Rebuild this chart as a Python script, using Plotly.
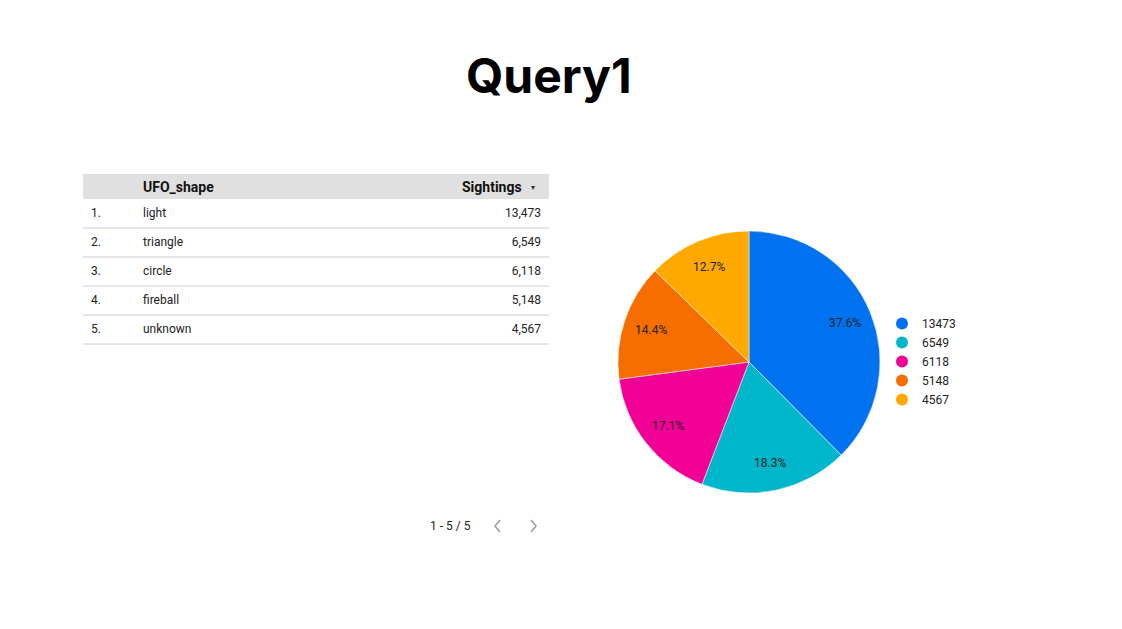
import math
import plotly.graph_objects as go

W, H = 1122, 629

title_text = "Query1"
shapes_ = ["light", "triangle", "circle", "fireball", "unknown"]
sightings = [13473, 6549, 6118, 5148, 4567]
ranks = ["1.", "2.", "3.", "4.", "5."]
colors = ["#0072f0", "#00b6cb", "#f10096", "#f66d00", "#ffa800"]
col_headers = ["", "UFO_shape", "Sightings"]
sort_arrow = "▾"
pager_text = "1 - 5 / 5"


def px(x):
    return x / W


def py(y):
    return 1 - y / H


fig = go.Figure()

# Table
tbl_left, tbl_right, tbl_top = 83, 549, 174
header_h, row_h = 25, 29
body_top = tbl_top + header_h
empty_header_h = 16  # plotly reserves this much for an empty table header
fig.add_trace(go.Table(
    domain=dict(x=[px(tbl_left), px(tbl_right)],
                y=[py(body_top + row_h * len(shapes_) + 40), py(body_top + 1 - empty_header_h)]),
    columnwidth=[52, 207, 207],
    header=dict(values=[], line=dict(width=0), fill_color="rgba(0,0,0,0)"),
    cells=dict(
        values=[ranks, shapes_, sightings],
        format=[None, None, ","],
        fill_color="rgba(0,0,0,0)",
        line=dict(width=0, color="rgba(0,0,0,0)"),
        align=["left", "left", "right"],
        font=dict(family="Roboto", size=12, color="#222222"),
        height=row_h,
    ),
))

shape_list = [dict(type="rect", xref="paper", yref="paper", layer="below",
                   x0=px(tbl_left), x1=px(tbl_right), y0=py(body_top), y1=py(tbl_top),
                   fillcolor="#e0e0e0", line=dict(width=0))]
for i in range(len(shapes_)):
    yy = body_top + row_h * (i + 1)
    shape_list.append(dict(type="line", xref="paper", yref="paper",
                           x0=px(tbl_left), x1=px(tbl_right), y0=py(yy), y1=py(yy),
                           line=dict(color="#cccccc", width=1)))

annotations = [
    dict(text=f"<b>{col_headers[1]}</b>", x=px(141), y=py(tbl_top + header_h / 2), xref="paper", yref="paper",
         xanchor="left", yanchor="middle", showarrow=False,
         font=dict(family="Roboto", size=14, color="#111111")),
    dict(text=f"<b>{col_headers[2]}</b>", x=px(524), y=py(tbl_top + header_h / 2), xref="paper", yref="paper",
         xanchor="right", yanchor="middle", showarrow=False,
         font=dict(family="Roboto", size=14, color="#111111")),
    dict(text=sort_arrow, x=px(533), y=py(tbl_top + header_h / 2 + 0.5), xref="paper", yref="paper",
         xanchor="center", yanchor="middle", showarrow=False,
         font=dict(family="DejaVu Sans", size=8, color="#333333")),
]

# Pie
cx, cy, r = 749, 362, 131
fig.add_trace(go.Pie(
    values=sightings,
    labels=[str(v) for v in sightings],
    sort=False,
    direction="clockwise",
    rotation=0,
    marker=dict(colors=colors, line=dict(color="white", width=0.5)),
    textinfo="none",
    domain=dict(x=[px(cx - r), px(cx + r)], y=[py(cy + r), py(cy - r)]),
    showlegend=False,
    hoverinfo="label+percent",
))

# Percentage labels placed at slice mid-angles computed from data
total = sum(sightings)
cum = 0.0
for v in sightings:
    frac = v / total
    mid = (cum + frac / 2) * 2 * math.pi
    cum += frac
    lr = 0.79 * r
    lx = cx + lr * math.sin(mid)
    ly = cy - lr * math.cos(mid)
    annotations.append(dict(text=f"{frac * 100:.1f}%", x=px(lx), y=py(ly), xref="paper", yref="paper",
                            xanchor="center", yanchor="middle", showarrow=False,
                            font=dict(family="Roboto", size=12, color="#222222")))

# Legend entries with circle markers
for v, c in zip(sightings, colors):
    fig.add_trace(go.Scatter(
        x=[None], y=[None], mode="markers", name=str(v),
        marker=dict(symbol="circle", size=12, color=c),
        showlegend=True, hoverinfo="skip",
    ))

# Pager chevrons
shape_list.append(dict(type="path", xref="paper", yref="paper",
                       path=f"M {px(500)},{py(520)} L {px(495)},{py(526)} L {px(500)},{py(532)}",
                       line=dict(color="#9e9e9e", width=1.6)))
shape_list.append(dict(type="path", xref="paper", yref="paper",
                       path=f"M {px(531)},{py(520)} L {px(536)},{py(526)} L {px(531)},{py(532)}",
                       line=dict(color="#9e9e9e", width=1.6)))

annotations += [
    dict(text=f"<b>{title_text}</b>", x=px(549), y=py(75), xref="paper", yref="paper",
         xanchor="center", yanchor="middle", showarrow=False,
         font=dict(family="Inter", size=48, color="#000000")),
    dict(text=pager_text, x=px(473), y=py(526), xref="paper", yref="paper",
         xanchor="right", yanchor="middle", showarrow=False,
         font=dict(family="Roboto", size=12, color="#222222")),
]

fig.update_layout(
    width=W, height=H,
    margin=dict(l=0, r=0, t=0, b=0),
    paper_bgcolor="white",
    plot_bgcolor="white",
    xaxis=dict(visible=False, domain=[0.98, 1]),
    yaxis=dict(visible=False, domain=[0.98, 1]),
    shapes=shape_list,
    legend=dict(
        x=px(882), y=py(309), xanchor="left", yanchor="top",
        font=dict(family="Roboto", size=12, color="#222222"),
        itemsizing="constant", tracegroupgap=0,
        bgcolor="rgba(0,0,0,0)",
    ),
    annotations=annotations,
)

fig.write_html("out.html")
